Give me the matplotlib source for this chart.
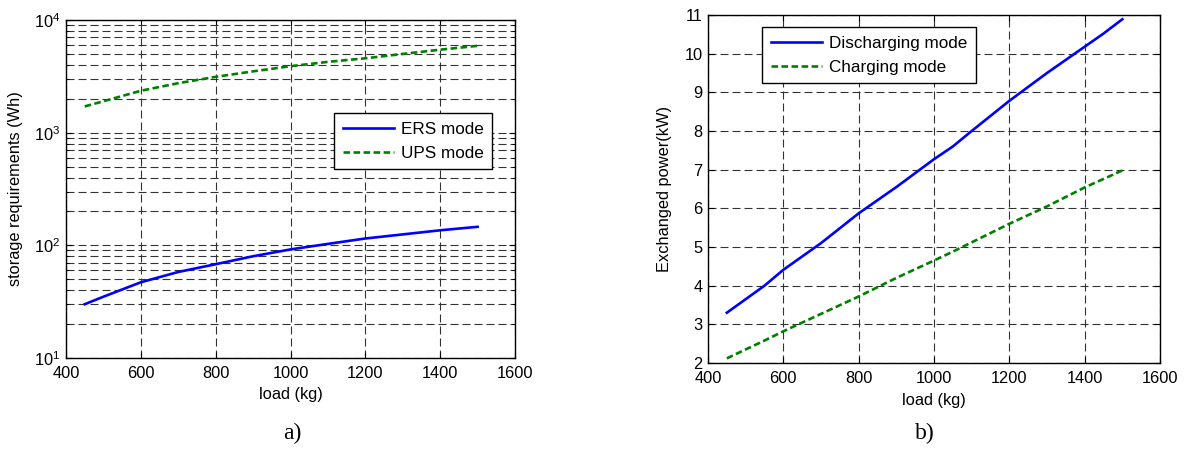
import matplotlib
matplotlib.use("Agg")
import matplotlib.pyplot as plt
from matplotlib.ticker import LogLocator, NullFormatter

plt.rcParams['font.family'] = ['Liberation Sans', 'DejaVu Sans']
plt.rcParams['mathtext.fontset'] = 'custom'
plt.rcParams['mathtext.rm'] = 'Liberation Sans'
plt.rcParams['mathtext.it'] = 'Liberation Sans:italic'
plt.rcParams['mathtext.bf'] = 'Liberation Sans:bold'

# Data
load = [450, 500, 600, 700, 800, 900, 1000, 1100, 1200, 1300, 1400, 1500]
ers_mode = [30, 35, 47, 58, 68, 80, 92, 103, 115, 125, 136, 146]
ups_mode = [1710, 1900, 2355, 2750, 3130, 3500, 3890, 4250, 4570, 5000, 5450, 5900]

load_b = [450, 500, 550, 600, 700, 800, 900, 1000, 1050, 1100, 1200, 1300, 1400, 1450, 1500]
discharging = [3.3, 3.65, 4.0, 4.41, 5.1, 5.87, 6.55, 7.27, 7.6, 8.0, 8.78, 9.5, 10.18, 10.52, 10.89]
charging = [2.12, 2.35, 2.58, 2.82, 3.27, 3.72, 4.2, 4.65, 4.88, 5.12, 5.6, 6.05, 6.54, 6.76, 6.98]

xticks = [400, 600, 800, 1000, 1200, 1400, 1600]

W, H = 1184, 453
fig = plt.figure(figsize=(W / 100, H / 100), dpi=100)

def px_axes(x0, x1, y0, y1):
    return fig.add_axes([x0 / W, 1 - y1 / H, (x1 - x0) / W, (y1 - y0) / H])

ax1 = px_axes(66, 515, 20, 358)
ax2 = px_axes(708, 1160, 15, 363)

fs = 11.8
lfs = 12.3
grid_kw = dict(color='0.2', linestyle=(0, (7.2, 3.6)), linewidth=0.8)
green_dash = (0, (2.5, 1.3))
leg_kw = dict(loc='upper left', borderaxespad=0, fontsize=lfs, fancybox=False,
              edgecolor='black', framealpha=1, handlelength=3.0, handletextpad=0.4,
              borderpad=0.5, labelspacing=0.55)

# Left plot
ax1.semilogy(load, ers_mode, color='blue', lw=1.9, label='ERS mode')
ax1.semilogy(load, ups_mode, color='green', lw=1.9, linestyle=green_dash, label='UPS mode')
ax1.set_xlim(400, 1600)
ax1.set_ylim(10, 1e4)
ax1.set_xticks(xticks)
ax1.yaxis.set_major_locator(LogLocator(base=10, numticks=10))
ax1.yaxis.set_minor_locator(LogLocator(base=10, subs=range(2, 10), numticks=20))
ax1.yaxis.set_minor_formatter(NullFormatter())
ax1.grid(True, which='major', **grid_kw)
ax1.grid(True, which='minor', axis='y', **grid_kw)
ax1.set_xlabel('load (kg)', fontsize=fs)
ax1.xaxis.set_label_coords(0.5, -(395 - 358) / (358 - 20))
ax1.xaxis.label.set_va('center')
ax1.set_ylabel('storage requirements (Wh)', fontsize=fs)
ax1.yaxis.set_label_coords((16 - 66) / (515 - 66), 0.5)
ax1.yaxis.label.set_va('center')
leg1 = ax1.legend(bbox_to_anchor=((334 - 66) / 449, 1 - (113 - 20) / 338), **leg_kw)
leg1.get_frame().set_linewidth(1.0)

# Right plot
ax2.plot(load_b, discharging, color='blue', lw=1.9, label='Discharging mode')
ax2.plot(load_b, charging, color='green', lw=1.9, linestyle=green_dash, label='Charging mode')
ax2.set_xlim(400, 1600)
ax2.set_ylim(2, 11)
ax2.set_xticks(xticks)
ax2.set_yticks(range(2, 12))
ax2.grid(True, **grid_kw)
ax2.set_xlabel('load (kg)', fontsize=fs)
ax2.xaxis.set_label_coords(0.5, -(400 - 363) / (363 - 15))
ax2.xaxis.label.set_va('center')
ax2.set_ylabel('Exchanged power(kW)', fontsize=fs)
ax2.yaxis.set_label_coords((664 - 708) / (1160 - 708), 0.5)
ax2.yaxis.label.set_va('center')
leg2 = ax2.legend(bbox_to_anchor=((762 - 708) / 452, 1 - (27 - 15) / 348), **leg_kw)
leg2.get_frame().set_linewidth(1.0)

for ax in (ax1, ax2):
    ax.tick_params(which='both', direction='in', top=True, right=True, labelsize=fs)
    ax.tick_params(which='major', length=4)
    ax.tick_params(which='minor', length=2.5)
    ax.tick_params(axis='x', which='both', pad=6)
    ax.tick_params(axis='y', which='both', pad=4)
    for s in ax.spines.values():
        s.set_linewidth(1.0)

fig.text(292 / W, 1 - 433 / H, 'a)', fontsize=17, family='Liberation Serif',
         ha='center', va='center')
fig.text(925 / W, 1 - 433 / H, 'b)', fontsize=17, family='Liberation Serif',
         ha='center', va='center')

fig.savefig('out.png', dpi=100)
